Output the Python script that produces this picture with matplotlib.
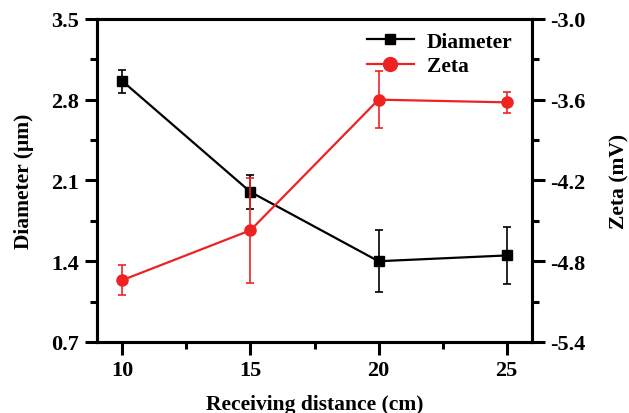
import matplotlib
matplotlib.use("Agg")
from matplotlib import pyplot as plt
from matplotlib.lines import Line2D
from matplotlib.ticker import MultipleLocator

# data
distance = [10, 15, 20, 25]
diameter = [2.96, 2.00, 1.40, 1.45]
diameter_err = [0.10, 0.15, 0.27, 0.25]
zeta = [-4.94, -4.57, -3.60, -3.62]
zeta_err = [0.11, 0.39, 0.21, 0.08]

red = '#ee2222'

plt.rcParams['font.family'] = ['Liberation Serif', 'DejaVu Serif']
plt.rcParams['font.weight'] = 'bold'

fig = plt.figure(figsize=(6.29, 4.14), dpi=100)
ax1 = fig.add_axes([0.154, 0.1715, 0.692, 0.7805])
ax2 = ax1.twinx()

# Diameter on the left axis
ax1.errorbar(distance, diameter, yerr=diameter_err, color='black',
             marker='s', markersize=7, linewidth=1.6, capsize=3,
             elinewidth=1.2, capthick=1.2)

# Zeta on the right axis
ax2.errorbar(distance, zeta, yerr=zeta_err, color=red,
             marker='o', markersize=8, linewidth=1.6, capsize=3,
             elinewidth=1.2, capthick=1.2)

ax1.set_xlim(9, 26)
ax1.set_ylim(0.7, 3.5)
ax2.set_ylim(-5.4, -3.0)

ax1.xaxis.set_major_locator(MultipleLocator(5))
ax1.xaxis.set_minor_locator(MultipleLocator(2.5))
ax1.yaxis.set_major_locator(MultipleLocator(0.7))
ax1.yaxis.set_minor_locator(MultipleLocator(0.35))
ax2.yaxis.set_major_locator(MultipleLocator(0.6))
ax2.yaxis.set_minor_locator(MultipleLocator(0.3))
ax1.yaxis.set_major_formatter(plt.FormatStrFormatter('%.1f'))
ax2.yaxis.set_major_formatter(plt.FormatStrFormatter('%.1f'))

for ax in (ax1, ax2):
    for s in ax.spines.values():
        s.set_linewidth(2.2)
    ax.tick_params(which='major', direction='out', length=9, width=2.2,
                   labelsize=16, pad=4)
    ax.tick_params(which='minor', direction='out', length=5, width=2.2)
ax1.tick_params(axis='x', which='both', top=False)

ax1.set_xlabel('Receiving distance (cm)', fontsize=15.5, fontweight='bold', labelpad=10)
ax1.set_ylabel('Diameter (\u03bcm)', fontsize=15.5, fontweight='bold', labelpad=12)
ax2.set_ylabel('Zeta (mV)', fontsize=15.5, fontweight='bold', labelpad=17)

# legend shows line + marker only
h1 = Line2D([], [], color='black', marker='s', markersize=7, linewidth=1.6)
h2 = Line2D([], [], color=red, marker='o', markersize=10, linewidth=1.6)
ax1.legend([h1, h2], ['Diameter', 'Zeta'], loc='upper right',
           frameon=False, fontsize=15.5, handlelength=2.2, handletextpad=0.6,
           borderaxespad=0.2, labelspacing=0.2,
           bbox_to_anchor=(0.985, 1.0))

fig.savefig('out.png', dpi=100)
